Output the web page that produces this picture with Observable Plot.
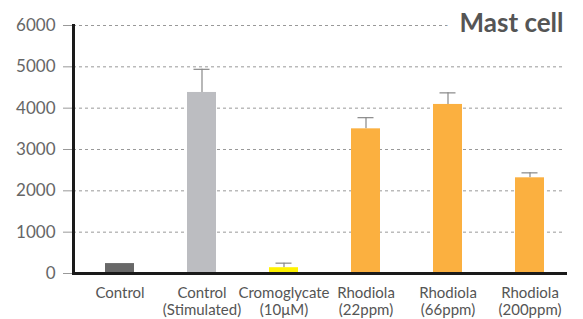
<!DOCTYPE html>
<html>
<head>
<meta charset="utf-8">
<script src="https://cdn.jsdelivr.net/npm/d3@7"></script>
<script src="https://cdn.jsdelivr.net/npm/@observablehq/plot@0.6"></script>
<style>
  html, body { margin: 0; padding: 0; background: #fff; }
</style>
</head>
<body>
<div id="chart"></div>
<script>
const categories = ["Control", "Control\n(Stimulated)", "Cromoglycate\n(10μM)", "Rhodiola\n(22ppm)", "Rhodiola\n(66ppm)", "Rhodiola\n(200ppm)"];
const values = [240, 4380, 140, 3500, 4090, 2315];
const errors = [0, 560, 110, 270, 280, 120];
const colors = ["#686868", "#bcbdc1", "#fff200", "#fbb040", "#fbb040", "#fbb040"];
const yTicks = [0, 1000, 2000, 3000, 4000, 5000, 6000];
const gridTicks = [1000, 2000, 3000, 4000, 5000, 6000];
const title = "Mast cell";

const data = categories.map((c, i) => ({cat: c, value: values[i], err: errors[i], color: colors[i]}));
const errData = data.filter(d => d.err > 0);

const chart = Plot.plot({
  width: 583,
  height: 319,
  marginLeft: 73,
  marginRight: 18,
  marginTop: 25,
  marginBottom: 46,
  style: {fontFamily: "Lato, sans-serif", background: "#fff"},
  x: {domain: categories, range: [79, 571], paddingInner: 0.646, paddingOuter: 0.323, axis: null, label: null},
  y: {domain: [0, 6000], axis: null, label: null},
  color: {type: "identity"},
  marks: [
    Plot.gridY(gridTicks, {stroke: "#999", strokeOpacity: 1, strokeDasharray: "3,3", strokeWidth: 1}),
    Plot.text([title], {frameAnchor: "top-right", text: d => d, fontSize: 26, fontWeight: "bold", fill: "#555", stroke: "#fff", strokeWidth: 28, strokeLinejoin: "round", paintOrder: "stroke", textAnchor: "end", lineAnchor: "middle", dx: -2, dy: -2}),
    Plot.ruleX(errData, {x: "cat", y1: "value", y2: d => d.value + d.err, stroke: "#888", strokeWidth: 1.2}),
    Plot.tickY(errData, {x: "cat", y: d => d.value + d.err, stroke: "#888", strokeWidth: 1.2, insetLeft: 6.5, insetRight: 6.5}),
    Plot.barY(data, {x: "cat", y: "value", fill: "color"}),
    Plot.axisY(yTicks, {anchor: "left", label: null, tickFormat: d => String(d), tickSize: 10, tickPadding: 8, fontSize: 17, fill: "#666", stroke: "#999"}),
    Plot.axisX({anchor: "bottom", label: null, tickSize: 0, tickPadding: 12.5, fontSize: 15, fill: "#555", lineHeight: 1.13}),
    Plot.frame({anchor: "left", stroke: "#1a1a1a", strokeWidth: 3}),
    Plot.frame({anchor: "bottom", stroke: "#1a1a1a", strokeWidth: 3})
  ]
});
document.getElementById("chart").appendChild(chart);
</script>
</body>
</html>
